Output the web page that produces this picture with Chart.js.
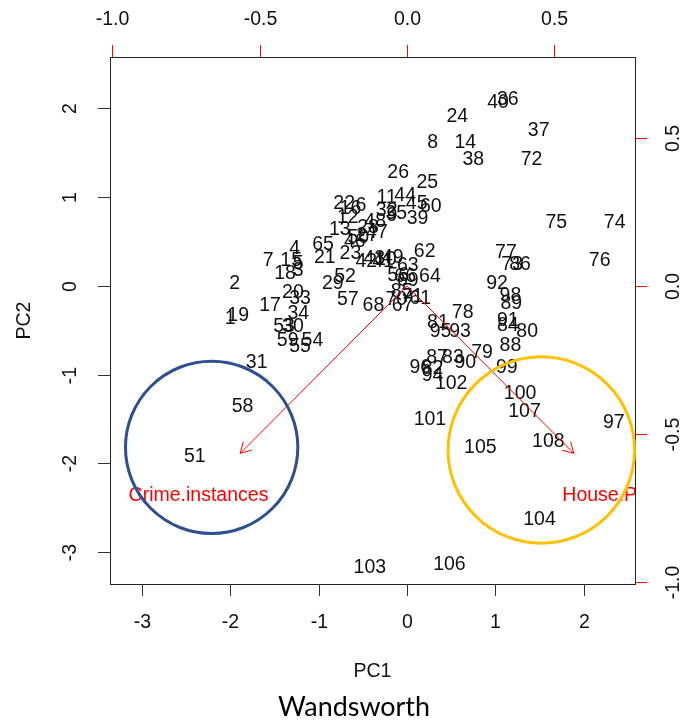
<!DOCTYPE html>
<html>
<head>
<meta charset="utf-8">
<script src="https://cdn.jsdelivr.net/npm/chart.js@4.4.1/dist/chart.umd.min.js"></script>
<style>
  html, body { margin: 0; padding: 0; background: #ffffff; }
  #wrap { width: 697px; height: 721px; }
</style>
</head>
<body>
<div id="wrap"><canvas id="c" width="697" height="721"></canvas></div>
<script>
// Observation labels and their principal component scores
const obsLabels = [];
for (let i = 1; i <= 108; i++) obsLabels.push(String(i));

const pc1 = [
  -2.00, -1.95, -1.23, -1.27, -1.23, -0.52, -1.57,  0.29, -0.17, -0.24,
  -0.23, -0.67, -0.76,  0.66, -1.31, -0.64, -1.55, -1.38, -1.91, -1.29,
  -0.93, -0.71, -0.64,  0.57,  0.23, -0.10, -0.45, -0.44, -0.84, -1.29,
  -1.70, -0.23, -1.21, -1.23, -0.12,  1.14,  1.49,  0.75,  0.12,  1.03,
  -0.27, -0.46, -0.37, -0.02,  0.11, -0.59, -0.34, -0.36, -0.16, -0.55,
  -2.40, -0.70, -1.39, -1.07, -1.21, -0.10, -0.67, -1.86, -1.35,  0.27,
   0.15,  0.20,  0.01,  0.26, -0.95, -0.02, -0.05, -0.38,  0.01, -0.12,
   0.06,  1.41,  1.19,  2.35,  1.69,  2.18,  1.12,  0.63,  0.85,  1.36,
   0.35,  0.29,  0.52,  1.14, -0.06,  1.28,  0.34,  1.17,  1.18,  0.66,
   1.14,  1.02,  0.60,  0.29,  0.38,  0.15,  2.34,  1.17,  1.13,  1.28,
   0.26,  0.50, -0.42,  1.50,  0.83,  0.48,  1.33,  1.60
];
const pc2 = [
  -0.37,  0.02,  0.17,  0.42,  0.25,  0.90,  0.29,  1.61,  0.79,  0.30,
   1.00,  0.77,  0.63,  1.61,  0.29,  0.87, -0.22,  0.14, -0.34, -0.08,
   0.32,  0.93,  0.36,  1.91,  1.16,  1.28,  0.57,  0.66,  0.03, -0.46,
  -0.86,  0.85, -0.14, -0.31,  0.82,  2.10,  1.75,  1.42,  0.76,  2.07,
   0.27,  0.27,  0.31,  1.02,  0.93,  0.50,  0.60,  0.72,  0.32,  0.54,
  -1.92,  0.10, -0.46, -0.62, -0.69,  0.12, -0.15, -1.36, -0.62,  0.89,
  -0.14,  0.39,  0.23,  0.11,  0.46,  0.11, -0.22, -0.22,  0.06, -0.15,
  -0.12,  1.42,  0.24,  0.71,  0.71,  0.29,  0.38, -0.30, -0.75, -0.52,
  -0.41, -0.93, -0.81, -0.45, -0.06,  0.24, -0.81, -0.67, -0.20, -0.87,
  -0.39,  0.03, -0.51, -1.01, -0.52, -0.92, -1.54, -0.11, -0.92, -1.21,
  -1.51, -1.10, -3.17, -2.63, -1.82, -3.14, -1.42, -1.75
];

// Variable loadings (secondary axes)
const varNames = ['Crime.instances', 'House.Price'];
const loadX = [-0.707, 0.707];
const loadY = [-0.707, -0.707];

// Axis ticks
const xTicks = [-3, -2, -1, 0, 1, 2];
const yTicks = [-3, -2, -1, 0, 1, 2];
const topTicks = [-1.0, -0.5, 0.0, 0.5];
const rightTicks = [-1.0, -0.5, 0.0, 0.5];
const topTickLabels = ['-1.0', '-0.5', '0.0', '0.5'];
const rightTickLabels = ['-1.0', '-0.5', '0.0', '0.5'];

// Highlight rings in score coordinates: [centre x, centre y, radius]
const ringCrime = [-2.21, -1.82, 0.975];
const ringHouse = [1.52, -1.85, 1.055];

const lim = [-3.36, 2.58];
const ratio = 3.336;

const points = pc1.map((v, i) => ({ x: v, y: pc2[i] }));

const FONT = '"Liberation Sans", Arial, sans-serif';

const biplotDraw = {
  id: 'biplotDraw',
  afterDatasetsDraw(chart) {
    const ctx = chart.ctx;
    const a = chart.chartArea;
    const sx = chart.scales.x, sy = chart.scales.y;
    const sx2 = chart.scales.x2, sy2 = chart.scales.y2;
    ctx.save();

    // observation labels
    ctx.font = '19.5px ' + FONT;
    ctx.fillStyle = '#111';
    ctx.textAlign = 'center';
    ctx.textBaseline = 'middle';
    const meta = chart.getDatasetMeta(0);
    meta.data.forEach((el, i) => {
      ctx.fillText(obsLabels[i], el.x, el.y);
    });

    // plot box
    ctx.strokeStyle = '#222';
    ctx.lineWidth = 1;
    ctx.strokeRect(Math.round(a.left) + 0.5, Math.round(a.top) + 0.5,
      Math.round(a.right - a.left), Math.round(a.bottom - a.top));

    const tl = 12;
    // bottom axis
    ctx.fillStyle = '#111';
    ctx.font = '19.5px ' + FONT;
    xTicks.forEach(t => {
      const px = Math.round(sx.getPixelForValue(t)) + 0.5;
      ctx.strokeStyle = '#333';
      ctx.beginPath(); ctx.moveTo(px, a.bottom); ctx.lineTo(px, a.bottom + tl); ctx.stroke();
      ctx.fillText(String(t), px, a.bottom + 39);
    });
    // left axis
    yTicks.forEach(t => {
      const py = Math.round(sy.getPixelForValue(t)) + 0.5;
      ctx.strokeStyle = '#333';
      ctx.beginPath(); ctx.moveTo(a.left, py); ctx.lineTo(a.left - tl, py); ctx.stroke();
      ctx.save();
      ctx.translate(a.left - 39, py);
      ctx.rotate(-Math.PI / 2);
      ctx.fillText(String(t), 0, 0);
      ctx.restore();
    });
    // top axis (loadings scale)
    topTicks.forEach((t, i) => {
      const px = Math.round(sx2.getPixelForValue(t)) + 0.5;
      ctx.strokeStyle = '#ff0000';
      ctx.beginPath(); ctx.moveTo(px, a.top); ctx.lineTo(px, a.top - tl); ctx.stroke();
      ctx.fillText(topTickLabels[i], px, a.top - 37);
    });
    // right axis (loadings scale)
    rightTicks.forEach((t, i) => {
      const py = Math.round(sy2.getPixelForValue(t)) + 0.5;
      ctx.strokeStyle = '#ff0000';
      ctx.beginPath(); ctx.moveTo(a.right, py); ctx.lineTo(a.right + tl, py); ctx.stroke();
      ctx.save();
      ctx.translate(a.right + 39, py);
      ctx.rotate(-Math.PI / 2);
      ctx.fillText(rightTickLabels[i], 0, 0);
      ctx.restore();
    });

    // axis titles
    ctx.fillText('PC1', (a.left + a.right) / 2, a.bottom + 88);
    ctx.save();
    ctx.translate(25, (a.top + a.bottom) / 2);
    ctx.rotate(-Math.PI / 2);
    ctx.fillText('PC2', 0, 0);
    ctx.restore();

    // loading arrows
    const ox = sx2.getPixelForValue(0), oy = sy2.getPixelForValue(0);
    ctx.strokeStyle = '#ff0000';
    ctx.lineWidth = 1;
    loadX.forEach((lx, i) => {
      const tx = sx2.getPixelForValue(lx * 0.8);
      const ty = sy2.getPixelForValue(loadY[i] * 0.8);
      ctx.beginPath(); ctx.moveTo(ox, oy); ctx.lineTo(tx, ty); ctx.stroke();
      const ang = Math.atan2(ty - oy, tx - ox);
      const hl = 12, ha = Math.PI / 6;
      ctx.beginPath();
      ctx.moveTo(tx - hl * Math.cos(ang - ha), ty - hl * Math.sin(ang - ha));
      ctx.lineTo(tx, ty);
      ctx.lineTo(tx - hl * Math.cos(ang + ha), ty - hl * Math.sin(ang + ha));
      ctx.stroke();
    });

    // variable names, clipped to the plot region
    ctx.save();
    ctx.beginPath();
    ctx.rect(a.left, a.top, a.right - a.left, a.bottom - a.top);
    ctx.clip();
    ctx.fillStyle = '#ff0000';
    ctx.font = '19.5px ' + FONT;
    varNames.forEach((n, i) => {
      ctx.fillText(n, sx2.getPixelForValue(loadX[i]), sy2.getPixelForValue(loadY[i]));
    });
    ctx.restore();

    // highlight rings
    const ring = (r, col) => {
      const cx = sx.getPixelForValue(r[0]);
      const cy = sy.getPixelForValue(r[1]);
      const rad = Math.abs(sx.getPixelForValue(r[0] + r[2]) - cx);
      ctx.beginPath();
      ctx.arc(cx, cy, rad, 0, Math.PI * 2);
      ctx.strokeStyle = col;
      ctx.lineWidth = 3;
      ctx.stroke();
    };
    ring(ringCrime, '#2f4f8f');
    ring(ringHouse, '#ffc000');

    // caption
    ctx.fillStyle = '#000';
    let fs = 28;
    ctx.font = fs + 'px Lato, "Open Sans", sans-serif';
    const w = ctx.measureText('Wandsworth').width;
    fs = fs * 152 / w;
    ctx.font = fs.toFixed(1) + 'px Lato, "Open Sans", sans-serif';
    ctx.fillText('Wandsworth', 354, 707);

    ctx.restore();
  }
};

new Chart(document.getElementById('c'), {
  type: 'scatter',
  data: {
    datasets: [{
      data: points,
      pointRadius: 0,
      pointHoverRadius: 0,
      showLine: false
    }]
  },
  options: {
    responsive: false,
    animation: false,
    events: [],
    layout: { padding: { left: 110, right: 62, top: 57, bottom: 137 } },
    plugins: { legend: { display: false }, tooltip: { enabled: false } },
    scales: {
      x: { type: 'linear', min: lim[0], max: lim[1], display: false },
      y: { type: 'linear', min: lim[0], max: lim[1], display: false },
      x2: { type: 'linear', position: 'top', min: lim[0] / ratio, max: lim[1] / ratio, display: false },
      y2: { type: 'linear', position: 'right', min: lim[0] / ratio, max: lim[1] / ratio, display: false }
    }
  },
  plugins: [biplotDraw]
});
</script>
</body>
</html>
